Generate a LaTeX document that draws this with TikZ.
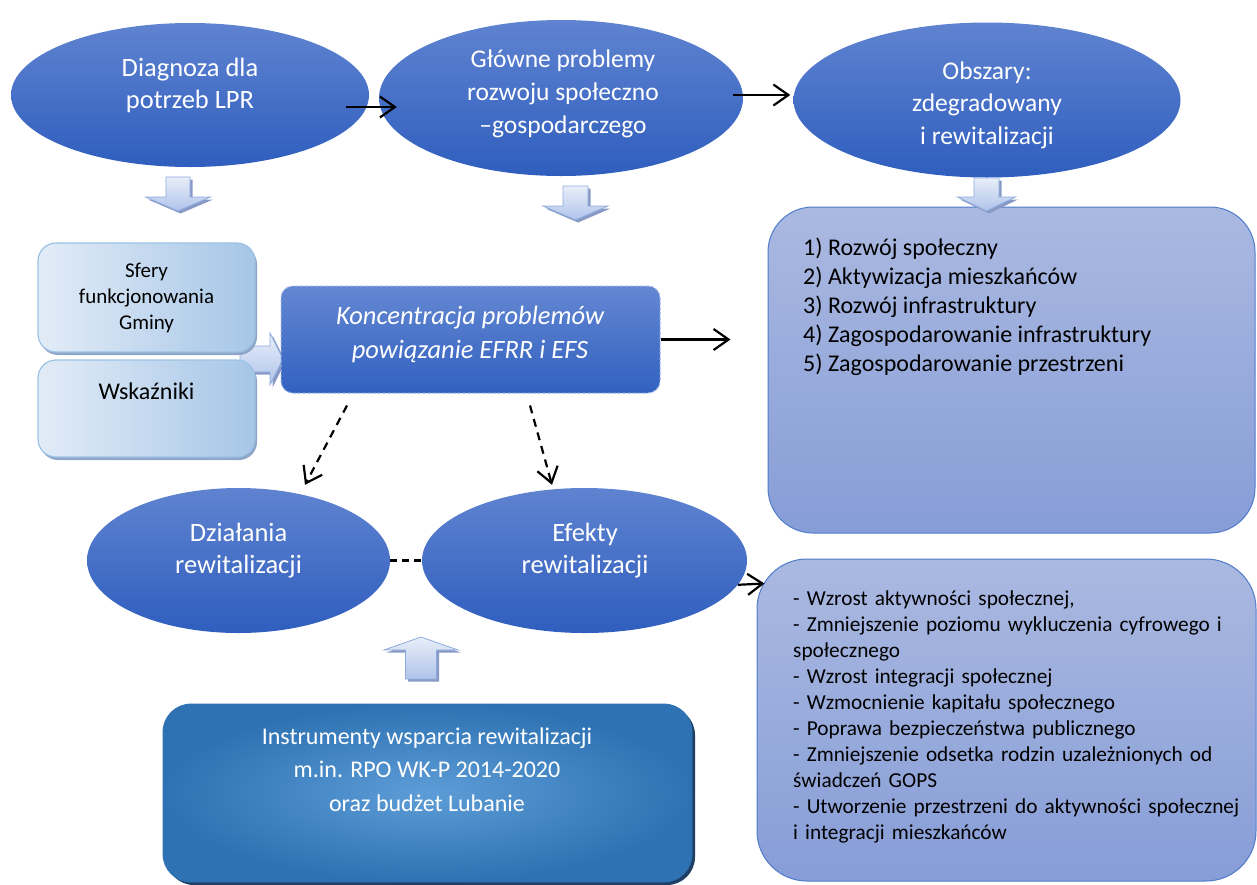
\documentclass[tikz,border=0pt]{standalone}
\usepackage{fontspec}
\setmainfont{Carlito}
\usetikzlibrary{shapes.geometric,arrows.meta,shadows,calc}
\definecolor{ellT}{HTML}{5F83D0}
\definecolor{ellB}{HTML}{2F5EBE}
\definecolor{baT}{HTML}{E8EEF9}
\definecolor{baB}{HTML}{AFC3EA}
\definecolor{baD}{HTML}{8EABDD}
\definecolor{baS}{HTML}{8799C4}
\definecolor{lbL}{HTML}{E2ECF7}
\definecolor{lbD}{HTML}{A6C6E7}
\definecolor{lbE}{HTML}{9CC2E5}
\definecolor{lbS}{HTML}{8FA6C9}
\definecolor{kbT}{HTML}{6487D2}
\definecolor{kbB}{HTML}{3161C0}
\definecolor{kbE}{HTML}{9AB2E6}
\definecolor{rbT}{HTML}{AAB9E1}
\definecolor{rbB}{HTML}{879DD7}
\definecolor{rbE}{HTML}{4F7BCB}
\definecolor{bbI}{HTML}{5D9DD7}
\definecolor{bbO}{HTML}{2E72B3}
\definecolor{bbS}{HTML}{1F3F66}
% vertical block arrow: cx, tail, headbase, tip, half shaft, half head
\newcommand{\blockV}[6]{%
  \fill[baS, shift={(2.5,2.5)}] (#1-#5,#2) -- (#1+#5,#2) -- (#1+#5,#3) -- (#1+#6,#3) -- (#1,#4) -- (#1-#6,#3) -- (#1-#5,#3) -- cycle;
  \path[blockarrow] (#1-#5,#2) -- (#1+#5,#2) -- (#1+#5,#3) -- (#1+#6,#3) -- (#1,#4) -- (#1-#6,#3) -- (#1-#5,#3) -- cycle;}
% horizontal block arrow: cy, tail, headbase, tip, half shaft, half head
\newcommand{\blockH}[6]{%
  \fill[baS, shift={(2.5,2.5)}] (#2,#1-#5) -- (#3,#1-#5) -- (#3,#1-#6) -- (#4,#1) -- (#3,#1+#6) -- (#3,#1+#5) -- (#2,#1+#5) -- cycle;
  \path[blockarrow] (#2,#1-#5) -- (#3,#1-#5) -- (#3,#1-#6) -- (#4,#1) -- (#3,#1+#6) -- (#3,#1+#5) -- (#2,#1+#5) -- cycle;}
\begin{document}
\begin{tikzpicture}[x=1pt,y=-1pt,
  ell/.style={ellipse, draw=none, top color=ellT, bottom color=ellB, inner sep=0pt},
  ltxt/.style={text=white, align=center, inner sep=0pt, font=\fontsize{26.5}{32}\selectfont},
  blockarrow/.style={draw=baD, line width=0.8pt, top color=baT, bottom color=baB},
  lbox/.style={rectangle, rounded corners=18pt, draw=lbE, line width=1.2pt,
    left color=lbL, right color=lbD, inner sep=0pt,
    drop shadow={shadow xshift=2pt, shadow yshift=-3pt, fill=lbS, opacity=1}},
  rbox/.style={rectangle, draw=rbE, line width=1pt, top color=rbT, bottom color=rbB, inner sep=0pt},
  conn/.style={line width=2.2pt, -{Straight Barb[length=15pt,width=21pt]}},
  dconn/.style={conn, dash pattern=on 8pt off 6pt},
]
\useasboundingbox (0,0) rectangle (1257,884);
\clip (0,0) rectangle (1257,884);

% top ellipses
\node[ell, minimum width=358pt, minimum height=144pt] (e1) at (190,95) {};
\node[ltxt] (e1t) at (190,85) {Diagnoza dla\\potrzeb LPR};
\node[ell, minimum width=364pt, minimum height=156pt] (e2) at (561,98) {};
\node[ltxt, font=\fontsize{25.5}{33}\selectfont] (e2t) at (563,94) {Główne problemy\\rozwoju społeczno\\–gospodarczego};
\node[ell, minimum width=387pt, minimum height=155pt] (e3) at (987,100) {};
\node[ltxt, font=\fontsize{25.5}{32.5}\selectfont] (e3t) at (987,105) {Obszary:\\zdegradowany\\i rewitalizacji};

\draw[conn] ($(e1.east)+(-23,12)$) -- ($(e2.west)+(18,9)$);
\draw[conn] ($(e2.east)+(-10,-3)$) -- ($(e3.west)+(-3,-5)$);

% block arrows under top ellipses
\blockV{178}{177}{197}{211}{12}{32.5}
\blockV{575.5}{186}{206}{220}{12.5}{32.5}

% right box 1
\node[rbox, rounded corners=45pt, minimum width=487pt, minimum height=326pt] (rb1) at (1011.5,370) {};
\node[anchor=west, align=left, inner sep=0pt, font=\fontsize{24}{29}\selectfont] (rb1t) at (803,307)
  {1) Rozwój społeczny\\2) Aktywizacja mieszkańców\\3) Rozwój infrastruktury\\4) Zagospodarowanie infrastruktury\\5) Zagospodarowanie przestrzeni};
\blockV{986.5}{178}{197}{211}{12.5}{29}

% arrow from left boxes to concentration box
\blockH{359}{240}{270}{283}{13}{26}

% left boxes
\node[lbox, minimum width=217pt, minimum height=109pt, align=center, font=\fontsize{21}{26}\selectfont] (sf) at (146.5,297.5) {Sfery\\funkcjonowania\\Gminy};
\node[lbox, minimum width=217pt, minimum height=97pt] (wk) at (146.5,408.5) {};
\node[inner sep=0pt, font=\fontsize{24}{29}\selectfont] (wkt) at (146.5,391) {Wskaźniki};

% concentration box
\node[rectangle, rounded corners=12pt, draw=kbE, line width=1pt, dash pattern=on 3pt off 2pt,
  top color=kbT, bottom color=kbB, minimum width=379pt, minimum height=107pt] (kb) at (470.5,339.5) {};
\node[ltxt, font=\itshape\fontsize{26.5}{33.5}\selectfont] (kbt) at (470,334.5) {Koncentracja problemów\\powiązanie EFRR i EFS};
\draw[conn] (kb.east) -- ($(kb.east)+(70,0)$);

% bottom ellipses
\node[ell, minimum width=303pt, minimum height=145pt] (e4) at (238.5,560.5) {};
\node[ltxt] (e4t) at (238.5,550.5) {Działania\\rewitalizacji};
\node[ell, minimum width=325pt, minimum height=145pt] (e5) at (584.5,560.5) {};
\node[ltxt] (e5t) at (585,551) {Efekty\\rewitalizacji};

\draw[dconn] ($(kb.south)+(-123.5,12)$) -- ($(e4.north)+(66.5,-3)$);
\draw[dconn] ($(kb.south)+(59.5,12)$) -- ($(e5.north)+(-32.5,-3)$);
\draw[line width=2.2pt, dash pattern=on 7pt off 5pt] (e4.east) -- (e5.west);

% right box 2
\node[rbox, rounded corners=50pt, minimum width=499pt, minimum height=322pt] (rb2) at (1006.5,720) {};
\coordinate (c1) at ($(rb2.north west)+(8,25)$);
\draw[conn] (e5.-9) -- (c1);
\node[anchor=west, text width=437pt, align=left, inner sep=0pt, font=\fontsize{21.3}{26}\selectfont] (rb2t) at (793,717)
  {- Wzrost aktywności społecznej,\\
   \makebox[\linewidth][s]{- Zmniejszenie poziomu wykluczenia cyfrowego i}\\
   społecznego\\
   - Wzrost integracji społecznej\\
   - Wzmocnienie kapitału społecznego\\
   - Poprawa bezpieczeństwa publicznego\\
   \makebox[\linewidth][s]{- Zmniejszenie odsetka rodzin uzależnionych od}\\
   świadczeń GOPS\\
   \makebox[\linewidth][s]{- Utworzenie przestrzeni do aktywności społecznej}\\
   i integracji mieszkańców};

% up arrow and bottom box
\blockV{421}{679}{650}{637}{15.5}{37}
\node[rectangle, rounded corners=28pt, inner color=bbI, outer color=bbO, draw=bbO, line width=0.8pt,
  minimum width=529pt, minimum height=178pt,
  drop shadow={shadow xshift=3pt, shadow yshift=-3pt, fill=bbS, opacity=1}] (bb) at (427.5,793) {};
\node[ltxt, font=\fontsize{24}{33.5}\selectfont] (bbt) at (427,769.5) {Instrumenty wsparcia rewitalizacji\\m.in. RPO WK-P 2014-2020\\oraz budżet Lubanie};
\end{tikzpicture}
\end{document}
